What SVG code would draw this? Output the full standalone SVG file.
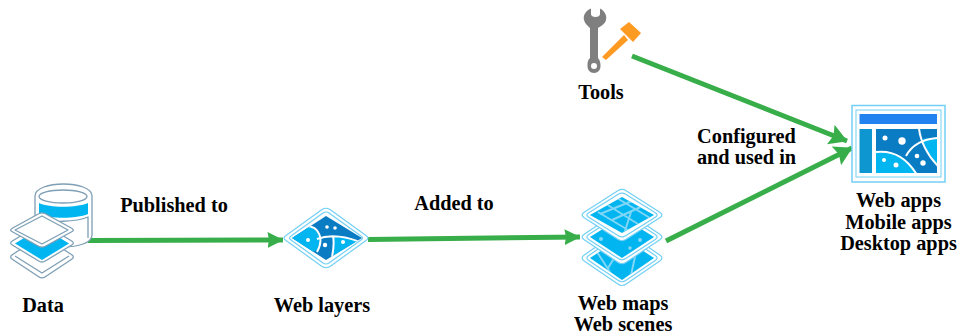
<svg xmlns="http://www.w3.org/2000/svg" width="957" height="335" viewBox="0 0 957 335">
<style>
text{font-family:"Liberation Serif","Times New Roman",serif;font-weight:bold;font-size:20.3px;fill:#000;text-anchor:middle}
.c{fill:none;stroke:#38ae4a;stroke-width:5}
.o{fill:#fff;stroke:#7e9fb5;stroke-width:1.3;stroke-linejoin:round}
.ol{fill:none;stroke:#7e9fb5;stroke-width:1.3;stroke-linejoin:round}
.l{fill:#fff;stroke:#73d0f5;stroke-width:1.2;stroke-linejoin:round}
.b{fill:#00b5f0}
.d{fill:#0a7cc4}
.w{fill:none;stroke:#fff;stroke-width:2}
.r{fill:none;stroke:#7fd6f7;stroke-width:2}
.rd{fill:#7fd6f7}
.dot{fill:#fff}
</style>
<defs>
<marker id="a" viewBox="0 0 16 16" refX="15.500" refY="8" markerUnits="userSpaceOnUse" markerWidth="16" markerHeight="16" orient="auto"><path d="M0 0L16 8L0 16L1.500 8Z" fill="#38ae4a"/></marker>
<marker id="a2" viewBox="0 0 18 21" refX="17.500" refY="10.500" markerUnits="userSpaceOnUse" markerWidth="18" markerHeight="21" orient="auto"><path d="M0 0L18 10.500L0 21L3 10.500Z" fill="#38ae4a"/></marker>
<clipPath id="clipL"><path d="M326 216L362 238L326 260L292 238Z"/></clipPath>
<clipPath id="clipT"><path d="M622 197L654 215L622 233L590 215Z"/></clipPath>
<clipPath id="clipB"><path d="M622 237L654 258L622 280L590 258Z"/></clipPath>
<clipPath id="clipM"><rect x="876" y="129" width="61" height="44"/></clipPath>
</defs>
<g id="connectors">
<path class="c" d="M88 240.500L283 240" marker-end="url(#a)"/>
<path class="c" d="M368 239.500L580 237" marker-end="url(#a)"/>
<path class="c" d="M632 56L847 141" marker-end="url(#a2)"/>
<path class="c" d="M666 241L852 148" marker-end="url(#a2)"/>
</g>
<g id="data">
<path class="o" d="M35 196C35 180 92 180 92 196V235C92 243 78 247 63 247C48 247 35 243 35 235Z"/>
<ellipse class="o" cx="63" cy="196.500" rx="24" ry="6.500"/>
<path class="b" d="M39 203C50 208 76 208 88 203V214C76 219 50 219 39 214Z"/>
<path class="ol" d="M39 218C50 223 76 222 88 217V238"/>
<path class="o" d="M38.700 237.200Q42 235 45.300 237.200L71.700 254.800Q75 257 71.700 259.200L45.300 276.800Q42 279 38.700 276.800L12.300 259.200Q9 257 12.300 254.800Z"/>
<path class="ol" d="M15 256L42 273L69 256"/>
<path class="o" d="M38.700 225Q42 223 45.300 225L71.700 241Q75 243 71.700 245L45.300 261Q42 263 38.700 261L12.300 245Q9 243 12.300 241Z"/>
<path class="b" d="M15 243.500L42 227L69 243.500L42 260Z"/>
<path class="o" d="M38.700 213.800Q42 212 45.300 213.800L71.700 228.200Q75 230 71.700 231.800L45.300 246.200Q42 248 38.700 246.200L12.300 231.800Q9 230 12.300 228.200Z"/>
<path class="o" d="M42 216L68 230L42 244L15 230Z"/>
<text x="43" y="312">Data</text>
</g>
<g id="web-layers">
<path class="l" d="M322 209.500Q326 207 330 209.500L366 235.500Q370 238 366 240.500L330 266.500Q326 269 322 266.500L286 240.500Q282 238 286 235.500Z"/>
<path class="l" d="M323 213Q326 211 329 213L361 236Q364 238 361 240L329 263Q326 265 323 263L291 240Q288 238 291 236Z"/>
<path class="d" d="M326 216L362 238L326 260L292 238Z"/>
<g clip-path="url(#clipL)">
<path class="b" d="M290 238L308 226C320 230 322 240 317 250L312 252Z"/>
<path class="b" d="M333 236C343 236 353 239 364 244L333 262Z"/>
<path class="w" d="M306 226C320 226 324 240 317 252M317 239C330 234 348 236 364 244M333 236C335 245 333 252 331 262"/>
</g>
<circle class="dot" cx="327" cy="227" r="1.800"/><circle class="dot" cx="335" cy="228" r="1.800"/><circle class="dot" cx="308" cy="240" r="2"/><circle class="dot" cx="325" cy="245" r="2.200"/><circle class="dot" cx="343" cy="242" r="2"/>
<text x="322" y="312">Web layers</text>
</g>
<g id="web-maps">
<path class="l" d="M617.800 232Q622 229 626.200 232L659.800 255Q664 258 659.800 261L626.200 284Q622 287 617.800 284L584.200 261Q580 258 584.200 255Z"/>
<path class="l" d="M618.300 235.500Q622 233 625.700 235.500L655.300 255.500Q659 258 655.300 260.500L625.700 280.500Q622 283 618.300 280.500L588.700 260.500Q585 258 588.700 255.500Z"/>
<path class="b" d="M622 237L654 258L622 280L590 258Z"/>
<g clip-path="url(#clipB)"><path class="r" d="M597 252L610 272M608 268L618 252M636 252L630 280"/></g>
<path class="l" d="M617.800 211.800Q622 209 626.200 211.800L659.800 234.200Q664 237 659.800 239.800L626.200 262.200Q622 265 617.800 262.200L584.200 239.800Q580 237 584.200 234.200Z"/>
<path class="l" d="M618.300 215.400Q622 213 625.700 215.400L655.300 234.600Q659 237 655.300 239.400L625.700 258.600Q622 261 618.300 258.600L588.700 239.400Q585 237 588.700 234.600Z"/>
<path class="b" d="M622 217L654 237L622 258L590 237Z"/>
<circle class="rd" cx="601" cy="239" r="2"/><circle class="rd" cx="640" cy="240" r="2"/><circle class="rd" cx="630" cy="248" r="1.800"/>
<path class="l" d="M617.800 190.700Q622 188 626.200 190.700L659.800 212.300Q664 215 659.800 217.700L626.200 239.300Q622 242 617.800 239.300L584.200 217.700Q580 215 584.200 212.300Z"/>
<path class="l" d="M618.300 194.300Q622 192 625.700 194.300L655.300 212.700Q659 215 655.300 217.300L625.700 235.700Q622 238 618.300 235.700L588.700 217.300Q585 215 588.700 212.700Z"/>
<path class="b" d="M622 197L654 215L622 233L590 215Z"/>
<g clip-path="url(#clipT)"><path class="r" d="M606 204L638 224M598 212L628 230M617 198L650 218M600 214L637 199M612 220L645 205M631 212L624 234"/></g>
<text x="623" y="310">Web maps</text>
<text x="623" y="331">Web scenes</text>
</g>
<g id="tools">
<path fill="#7f7f7f" d="M591 8.500C585 11 583 16 584 20C585 24 588 26 590 28V58C587.500 60 587.500 63 587.500 66C587.500 70 590 73 594 73C598 73 600.500 70 600.500 66C600.500 63 600 60 598 58V28C601 26 605 24 606 20C607 16 605 11 600 8.500V14C600 16 598 17 595.500 17C593 17 591 16 591 14Z"/>
<circle cx="594" cy="66" r="3" fill="#fff"/>
<path fill="#fd9a22" d="M602 57L624 35L628 40L606 60Z"/>
<path fill="#fd9a22" d="M620 29L629 22L641 33L633 42Z"/>
<text x="601" y="99">Tools</text>
</g>
<g id="apps">
<rect x="852" y="105.500" width="93" height="76.500" fill="#fff" stroke="#73d0f5" stroke-width="1.500"/>
<rect x="856" y="110" width="85" height="67" fill="#fff" stroke="#73d0f5" stroke-width="1"/>
<rect x="859.500" y="114" width="77.500" height="10" fill="#2283f0"/>
<rect x="859.500" y="129" width="12.500" height="44" fill="#0e96d0"/>
<rect x="876" y="129" width="61" height="44" class="d"/>
<g clip-path="url(#clipM)">
<path class="b" d="M876 152C893 150 907 158 917 173H876Z"/>
<path class="b" d="M922 139C928 138 933 138 937 138V165C930 155 925 147 922 139Z"/>
<path class="w" d="M876 152C893 150 907 158 917 175M906 156C912 145 922 139 938 138M919 128C920 140 927 155 938 166"/>
</g>
<circle class="dot" cx="885" cy="138" r="2.500"/><circle class="dot" cx="902" cy="141" r="3.700"/><circle class="dot" cx="884" cy="160" r="2"/><circle class="dot" cx="896" cy="165" r="2.500"/><circle class="dot" cx="917" cy="156" r="2.300"/><circle class="dot" cx="923" cy="163" r="2.700"/>
<text x="898.500" y="207">Web apps</text>
<text x="898.500" y="229">Mobile apps</text>
<text x="898.500" y="250">Desktop apps</text>
</g>
<g id="labels">
<text x="174" y="212">Published to</text>
<text x="454" y="210">Added to</text>
<text x="746.500" y="143">Configured</text>
<text x="746.500" y="164">and used in</text>
</g>
</svg>
